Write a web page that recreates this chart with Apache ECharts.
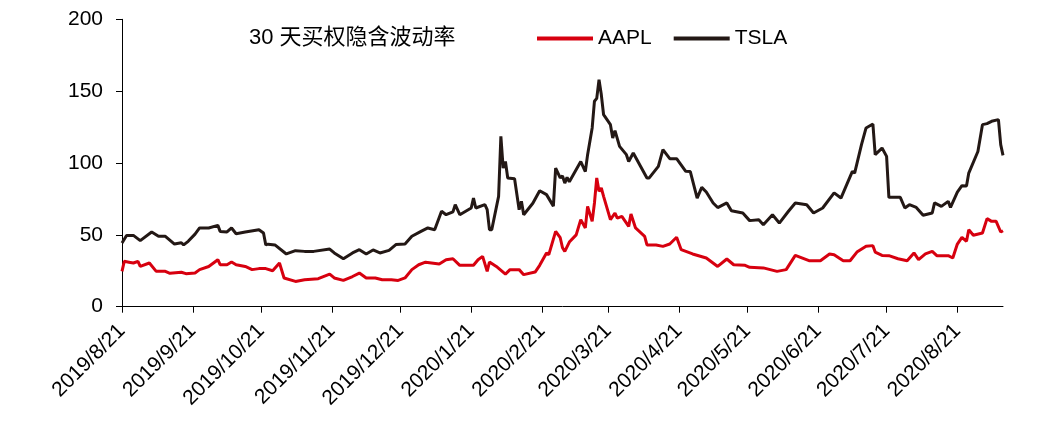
<!DOCTYPE html>
<html>
<head>
<meta charset="utf-8">
<script src="https://cdn.jsdelivr.net/npm/echarts@6/dist/echarts.min.js"></script>
<style>
html,body{margin:0;padding:0;background:#fff;}
#chart{width:1043px;height:430px;}
</style>
</head>
<body>
<div id="chart"></div>
<script>
// ---- data ----
const titleText = '30 天买权隐含波动率';
const xTickLabels = ['2019/8/21','2019/9/21','2019/10/21','2019/11/21','2019/12/21','2020/1/21','2020/2/21','2020/3/21','2020/4/21','2020/5/21','2020/6/21','2020/7/21','2020/8/21'];
const yTicks = [0, 50, 100, 150, 200];

const tslaDates = ['2019/8/21','2019/8/23','2019/8/26','2019/8/29','2019/9/3','2019/9/6','2019/9/9','2019/9/13','2019/9/16','2019/9/17','2019/9/19','2019/9/22','2019/9/24','2019/9/28','2019/10/2','2019/10/3','2019/10/6','2019/10/8','2019/10/10','2019/10/14','2019/10/20','2019/10/22','2019/10/23','2019/10/24','2019/10/27','2019/11/1','2019/11/5','2019/11/9','2019/11/13','2019/11/20','2019/11/22','2019/11/26','2019/11/30','2019/12/3','2019/12/6','2019/12/9','2019/12/12','2019/12/16','2019/12/19','2019/12/23','2019/12/26','2019/12/30','2020/1/2','2020/1/5','2020/1/8','2020/1/10','2020/1/13','2020/1/14','2020/1/16','2020/1/21','2020/1/22','2020/1/23','2020/1/27','2020/1/28','2020/1/29','2020/1/30','2020/2/2','2020/2/3','2020/2/4','2020/2/5','2020/2/6','2020/2/9','2020/2/11','2020/2/12','2020/2/13','2020/2/17','2020/2/20','2020/2/23','2020/2/26','2020/2/27','2020/2/29','2020/3/1','2020/3/2','2020/3/3','2020/3/4','2020/3/9','2020/3/11','2020/3/12','2020/3/14','2020/3/15','2020/3/16','2020/3/17','2020/3/18','2020/3/19','2020/3/22','2020/3/23','2020/3/24','2020/3/26','2020/3/29','2020/3/30','2020/4/1','2020/4/7','2020/4/8','2020/4/12','2020/4/14','2020/4/17','2020/4/20','2020/4/24','2020/4/26','2020/4/29','2020/5/1','2020/5/3','2020/5/6','2020/5/8','2020/5/12','2020/5/14','2020/5/19','2020/5/22','2020/5/26','2020/5/28','2020/6/1','2020/6/4','2020/6/8','2020/6/11','2020/6/16','2020/6/19','2020/6/23','2020/6/28','2020/7/1','2020/7/6','2020/7/7','2020/7/10','2020/7/12','2020/7/15','2020/7/16','2020/7/19','2020/7/21','2020/7/22','2020/7/27','2020/7/29','2020/7/31','2020/8/3','2020/8/6','2020/8/10','2020/8/11','2020/8/14','2020/8/17','2020/8/18','2020/8/21','2020/8/23','2020/8/25','2020/8/26','2020/8/30','2020/9/1','2020/9/3','2020/9/5','2020/9/8','2020/9/9','2020/9/10'];
const tslaValues = [44.3,49.6,49.6,46,52,49,49,43.6,44.5,43,45.5,50.5,54.8,54.8,56.6,52.4,52,54.8,50.8,52,53.6,51.3,43,43.5,43,36.7,39,38.5,38.5,40.1,37.4,33.4,37.4,39.7,36.7,39.5,37.4,39.2,43.2,43.6,49,52.4,54.8,53.6,66.4,64,66,71,64,68.7,75.6,68.7,71,67.5,53.6,53.6,76.8,118.6,96.5,101,89.6,89,67.5,73.3,64,72,80.7,78,70,96.5,89.6,91,86,90,87,101,94,105.8,124.4,143,145,158,147.6,133.6,126.7,117.4,122.5,111.6,105.8,101,107,89.6,89.6,97.7,109.3,103,103,94.2,94,75.6,83,79.8,72.2,69,72.2,66.8,65.2,59.9,60.5,57,64,58.2,66.4,72.2,71,65.2,68.7,79.2,75.6,94.2,93,112.8,124.4,127.1,105.8,110.4,104.6,76.1,76.1,68.7,71,69.1,63.6,65.2,72.2,69.8,73.3,69.1,79.8,84.2,84,93,108,126.7,127.4,129,130.2,112.8,105.3];

const aaplDates = ['2019/8/21','2019/8/22','2019/8/24','2019/8/26','2019/8/28','2019/8/29','2019/9/2','2019/9/5','2019/9/9','2019/9/11','2019/9/16','2019/9/18','2019/9/22','2019/9/24','2019/9/28','2019/10/2','2019/10/3','2019/10/6','2019/10/8','2019/10/10','2019/10/14','2019/10/17','2019/10/20','2019/10/23','2019/10/26','2019/10/29','2019/10/31','2019/11/5','2019/11/9','2019/11/15','2019/11/20','2019/11/22','2019/11/26','2019/11/30','2019/12/3','2019/12/6','2019/12/10','2019/12/13','2019/12/17','2019/12/20','2019/12/23','2019/12/26','2019/12/29','2020/1/1','2020/1/7','2020/1/10','2020/1/13','2020/1/16','2020/1/22','2020/1/24','2020/1/26','2020/1/28','2020/1/29','2020/2/1','2020/2/5','2020/2/7','2020/2/11','2020/2/13','2020/2/18','2020/2/20','2020/2/23','2020/2/24','2020/2/27','2020/2/29','2020/3/1','2020/3/2','2020/3/4','2020/3/7','2020/3/9','2020/3/11','2020/3/12','2020/3/14','2020/3/15','2020/3/16','2020/3/17','2020/3/18','2020/3/19','2020/3/22','2020/3/24','2020/3/25','2020/3/27','2020/3/30','2020/3/31','2020/4/2','2020/4/6','2020/4/7','2020/4/11','2020/4/14','2020/4/17','2020/4/20','2020/4/22','2020/4/27','2020/5/3','2020/5/8','2020/5/12','2020/5/15','2020/5/20','2020/5/22','2020/5/28','2020/6/3','2020/6/7','2020/6/11','2020/6/17','2020/6/22','2020/6/26','2020/6/28','2020/7/2','2020/7/5','2020/7/8','2020/7/12','2020/7/15','2020/7/16','2020/7/19','2020/7/22','2020/7/26','2020/7/30','2020/8/2','2020/8/4','2020/8/7','2020/8/10','2020/8/12','2020/8/17','2020/8/19','2020/8/21','2020/8/23','2020/8/25','2020/8/26','2020/8/28','2020/9/1','2020/9/3','2020/9/5','2020/9/7','2020/9/9','2020/9/10'];
const aaplValues = [24.6,31.6,31,30.4,31.6,28,30.4,24.6,24.6,23.2,24,23,23.5,25.8,28,32.7,29.2,29.2,31.1,29.2,28,25.8,26.5,26.5,25,30.4,20,17.6,18.8,19.5,22.7,20,18.3,21,23.4,20,20,18.8,18.8,18.3,20,25.8,29.2,31,29.7,32.7,33.4,28.8,28.8,32.7,35,24.6,31.1,28,22.7,25.8,25.8,22.3,24.1,28.8,37.4,36.2,52.4,48,41,38.5,45,50,60.6,54.8,69.8,59.4,72.2,89.6,80.3,82.6,76.8,60.6,65.2,61.7,62.9,55.9,64.5,54.8,49,43,43,42,43.6,48.3,39.7,36.7,33.9,28,33.2,29.2,28.8,27.4,27,24.6,25.8,35.7,32,32,36.7,36.2,32,32,38,42,42.5,38,35.7,35.5,33.4,32,37.4,32.7,36.7,38.5,35.5,35.5,33.9,43.6,48.3,45.5,53.6,49.7,51.3,61.3,59.4,59.4,52,52.9];

// ---- calendar-day category axis ----
const categories = [];
(function () {
  let t = Date.UTC(2019, 7, 21);
  const end = Date.UTC(2020, 8, 10);
  while (t <= end) {
    const d = new Date(t);
    categories.push(d.getUTCFullYear() + '/' + (d.getUTCMonth() + 1) + '/' + d.getUTCDate());
    t += 86400000;
  }
})();
const catIndex = {};
categories.forEach((c, i) => { catIndex[c] = i; });
const toPairs = (ds, vs) => ds.map((d, i) => [catIndex[d], vs[i]]);
const isTick = (i, v) => xTickLabels.indexOf(v) >= 0;

const FONT = '"Liberation Sans", Arial, "Noto Sans CJK SC", sans-serif';
const chart = echarts.init(document.getElementById('chart'), null, { renderer: 'canvas' });
chart.setOption({
  animation: false,
  backgroundColor: '#fff',
  title: {
    text: titleText,
    left: 249,
    top: 27,
    padding: 0,
    textStyle: { fontFamily: FONT, fontSize: 22, fontWeight: 'normal', color: '#000' }
  },
  legend: {
    left: 537,
    top: 28,
    padding: 0,
    itemGap: 22,
    itemWidth: 56,
    itemHeight: 4,
    icon: 'rect',
    textStyle: { fontFamily: FONT, fontSize: 21, color: '#000' },
    data: ['AAPL', 'TSLA']
  },
  grid: { left: 122, right: 40, top: 19.3, bottom: 123.3, containLabel: false },
  xAxis: {
    type: 'category',
    data: categories,
    boundaryGap: false,
    axisLine: { show: true, lineStyle: { color: '#000', width: 1 } },
    axisTick: { show: true, interval: isTick, length: 6, lineStyle: { color: '#000', width: 1 } },
    axisLabel: { interval: isTick, rotate: 45, margin: 21, fontFamily: FONT, fontSize: 21, color: '#000' },
    splitLine: { show: false }
  },
  yAxis: {
    type: 'value',
    min: yTicks[0],
    max: yTicks[yTicks.length - 1],
    interval: yTicks[1] - yTicks[0],
    axisLine: { show: true, lineStyle: { color: '#000', width: 1 } },
    axisTick: { show: true, length: 6, lineStyle: { color: '#000', width: 1 } },
    axisLabel: { margin: 19, fontFamily: FONT, fontSize: 21, color: '#000' },
    splitLine: { show: false }
  },
  series: [
    {
      name: 'AAPL', type: 'line', symbol: 'none', showSymbol: false,
      data: toPairs(aaplDates, aaplValues),
      lineStyle: { color: '#d7000f', width: 3 },
      itemStyle: { color: '#d7000f' }
    },
    {
      name: 'TSLA', type: 'line', symbol: 'none', showSymbol: false,
      data: toPairs(tslaDates, tslaValues),
      lineStyle: { color: '#231815', width: 3 },
      itemStyle: { color: '#231815' }
    }
  ]
});
</script>
</body>
</html>
